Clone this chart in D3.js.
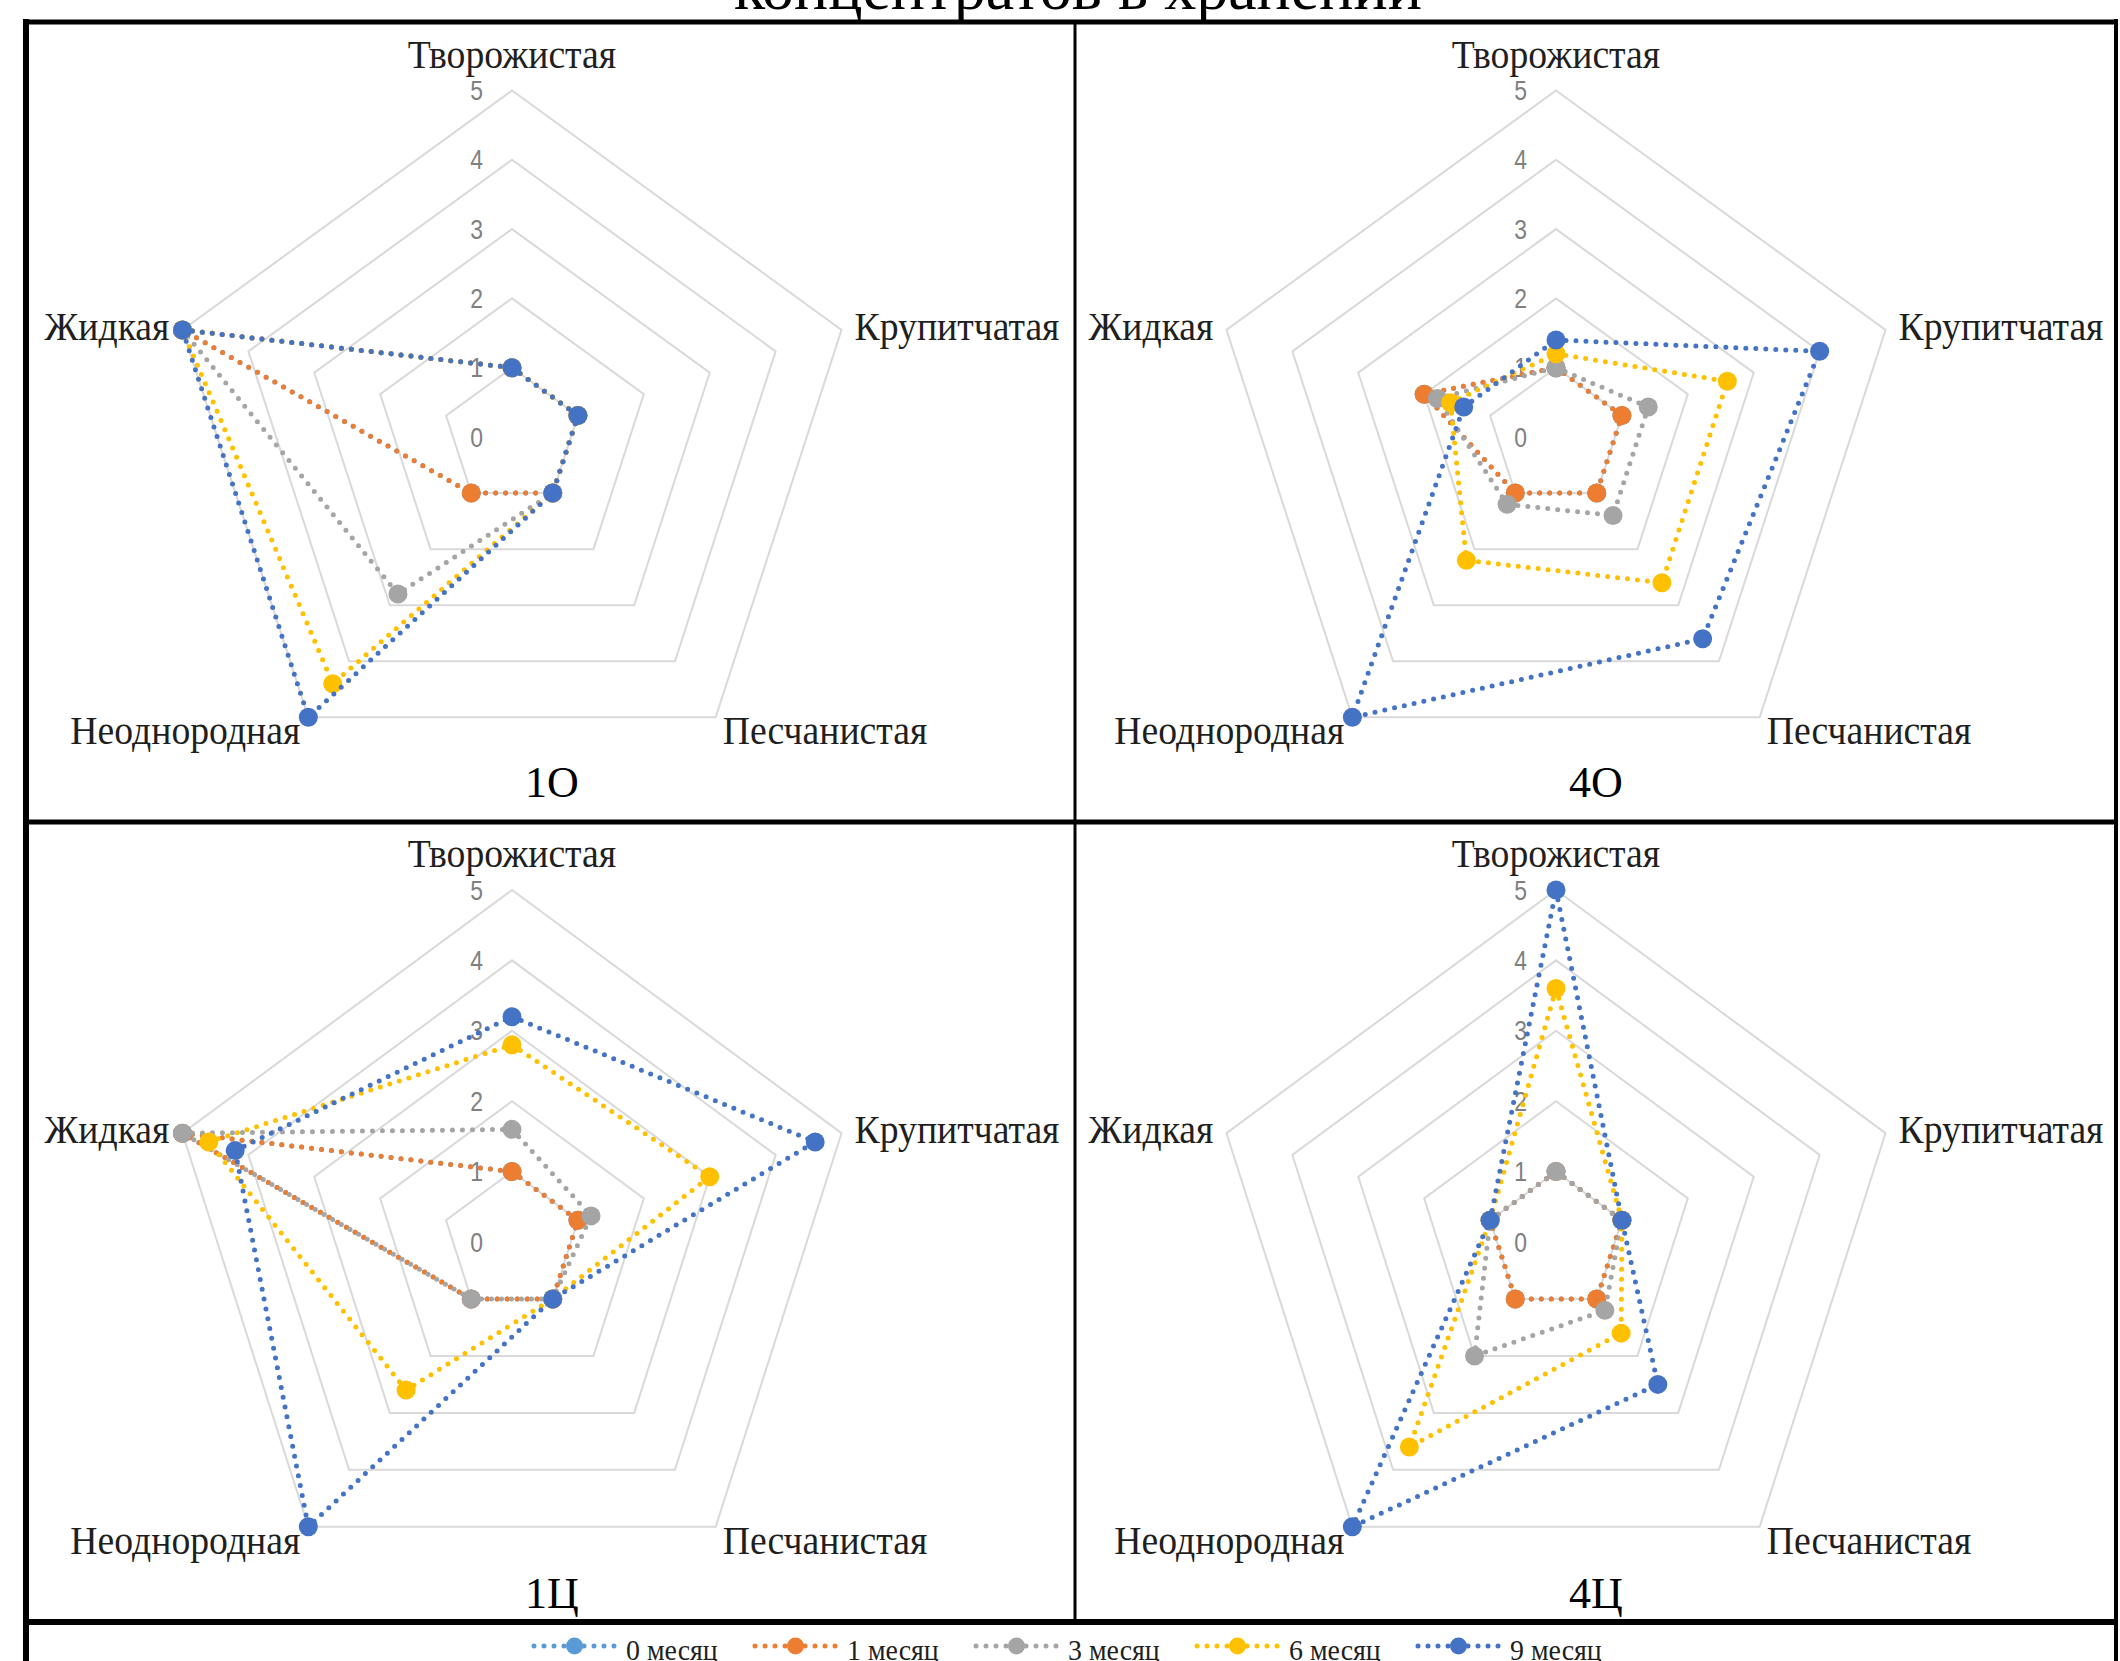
<!DOCTYPE html>
<html><head><meta charset="utf-8">
<script src="https://cdn.jsdelivr.net/npm/d3@7"></script>
<style>html,body{margin:0;padding:0;background:#fff;}svg{display:block;}</style>
</head><body>
<svg id="chart" width="2120" height="1661"></svg>
<script>
// ---------- data ----------
const titleText = "концентратов в хранении";
const categories = ["Творожистая", "Крупитчатая", "Песчанистая", "Неоднородная", "Жидкая"];
const seriesNames = ["0 месяц", "1 месяц", "3 месяц", "6 месяц", "9 месяц"];
const seriesColors = ["#5B9BD5", "#ED7D31", "#A5A5A5", "#FFC000", "#4472C4"];
const tickValues = [0, 1, 2, 3, 4, 5];
const panelNames = ["1O", "4O", "1Ц", "4Ц"];

// values per panel: one row per series (0,1,3,6,9 месяц), columns follow categories
const values1O = [
  [1, 1, 1, 1, 5],
  [1, 1, 1, 1, 5],
  [1, 1, 1, 2.8, 5],
  [1, 1, 1, 4.4, 5],
  [1, 1, 1, 5, 5]
];
const values4O = [
  [1, 1, 1, 1, 2],
  [1, 1, 1, 1, 2],
  [1, 1.4, 1.4, 1.2, 1.8],
  [1.2, 2.6, 2.6, 2.2, 1.6],
  [1.4, 4, 3.6, 5, 1.4]
];
const values1C = [
  [1, 1, 1, 1, 5],
  [1, 1, 1, 1, 5],
  [1.6, 1.2, 1, 1, 5],
  [2.8, 3, 1, 2.6, 4.6],
  [3.2, 4.6, 1, 5, 4.2]
];
const values4C = [
  [1, 1, 1, 1, 1],
  [1, 1, 1, 1, 1],
  [1, 1, 1.2, 2, 1],
  [3.6, 1, 1.6, 3.6, 1],
  [5, 1, 2.5, 5, 1]
];
const panelValues = [values1O, values4O, values1C, values4C];

// ---------- layout ----------
const svg = d3.select("#chart");
const W = 2120, H = 1661;
svg.append("rect").attr("width", W).attr("height", H).attr("fill", "#fff");

const R = 346.5;
const layout = [
  { cx: 512, cy: 437, ky: 1 },
  { cx: 1556, cy: 437, ky: 1 },
  { cx: 512, cy: 1242, ky: 1.016 },
  { cx: 1556, cy: 1242, ky: 1.016 }
];
const rScale = d3.scaleLinear().domain([0, 5]).range([0, R]);
const aScale = d3.scaleLinear().domain([0, categories.length]).range([0, 2 * Math.PI]);

const serif = "'Liberation Serif', 'Times New Roman', serif";
const sans = "'Liberation Sans', Arial, sans-serif";
const lineW = 5, dash = "0 10";

function proj(p, i, v) {
  const a = aScale(i), r = rScale(v);
  return [p.cx + r * Math.sin(a), p.cy - r * p.ky * Math.cos(a)];
}

// title (cut off at top, as in the source)
svg.append("text")
  .attr("x", 1078).attr("y", 9)
  .attr("text-anchor", "middle")
  .attr("font-family", serif).attr("font-size", 64)
  .attr("fill", "#000")
  .text(titleText);

layout.forEach((p, pi) => {
  const g = svg.append("g");
  const vals = panelValues[pi];

  // grid pentagons
  tickValues.filter(t => t > 0).forEach(t => {
    const pts = categories.map((c, i) => proj(p, i, t));
    g.append("path")
      .attr("d", d3.line().curve(d3.curveLinearClosed)(pts))
      .attr("fill", "none").attr("stroke", "#D9D9D9").attr("stroke-width", 2);
  });

  // tick labels
  tickValues.forEach(t => {
    const y = p.cy - rScale(t) * p.ky;
    g.append("text")
      .attr("transform", `translate(${p.cx - 29},${y}) scale(0.85,1)`)
      .attr("text-anchor", "end").attr("dominant-baseline", "central")
      .attr("font-family", sans).attr("font-size", 27)
      .attr("fill", "#808080")
      .text(t);
  });

  // category labels
  categories.forEach((c, i) => {
    const [vx, vy] = proj(p, i, 5);
    let x, y, anchor;
    if (i === 0) { x = vx; y = vy - 23; anchor = "middle"; }
    else if (i === 1) { x = vx + 13; y = vy + 10; anchor = "start"; }
    else if (i === 2) { x = vx + 7; y = vy + 27; anchor = "start"; }
    else if (i === 3) { x = vx - 8; y = vy + 27; anchor = "end"; }
    else { x = vx - 13; y = vy + 10; anchor = "end"; }
    g.append("text")
      .attr("transform", `translate(${x},${y}) scale(0.92,1)`)
      .attr("text-anchor", anchor)
      .attr("font-family", serif).attr("font-size", 41)
      .attr("fill", "#1f1f1f")
      .text(c);
  });

  // series: open path through the categories, then the closing segment drawn on its own
  vals.forEach((row, si) => {
    const pts = row.map((v, i) => proj(p, i, v));
    const styled = sel => sel
      .attr("fill", "none")
      .attr("stroke", seriesColors[si])
      .attr("stroke-width", lineW)
      .attr("stroke-linecap", "round")
      .attr("stroke-dasharray", dash);
    g.append("path").attr("d", d3.line()(pts)).call(styled);
    g.append("path").attr("d", d3.line()([pts[pts.length - 1], pts[0]])).call(styled);
    g.selectAll(null).data(pts).enter().append("circle")
      .attr("cx", d => d[0]).attr("cy", d => d[1])
      .attr("r", 9.5)
      .attr("fill", seriesColors[si]);
  });

  // panel name
  g.append("text")
    .attr("x", p.cx + 40).attr("y", p.cy + 360 * p.ky)
    .attr("text-anchor", "middle")
    .attr("font-family", serif).attr("font-size", 44)
    .attr("fill", "#000")
    .text(panelNames[pi]);
});

// frame lines
const frame = svg.append("g").attr("stroke", "#000").attr("fill", "none");
frame.append("line").attr("x1", 26).attr("x2", 26).attr("y1", 19).attr("y2", H).attr("stroke-width", 6);
frame.append("line").attr("x1", 2116).attr("x2", 2116).attr("y1", 19).attr("y2", H).attr("stroke-width", 4);
frame.append("line").attr("x1", 23).attr("x2", 2118).attr("y1", 22).attr("y2", 22).attr("stroke-width", 5);
frame.append("line").attr("x1", 1075).attr("x2", 1075).attr("y1", 22).attr("y2", 1622).attr("stroke-width", 3);
frame.append("line").attr("x1", 23).attr("x2", 2118).attr("y1", 822).attr("y2", 822).attr("stroke-width", 5);
frame.append("line").attr("x1", 23).attr("x2", 2118).attr("y1", 1622).attr("y2", 1622).attr("stroke-width", 6);

// legend
const legend = svg.append("g");
const legendY = 1646;
seriesNames.forEach((name, i) => {
  const x0 = 534 + i * 221;
  legend.append("line")
    .attr("x1", x0).attr("x2", x0 + 81).attr("y1", legendY).attr("y2", legendY)
    .attr("stroke", seriesColors[i]).attr("stroke-width", lineW)
    .attr("stroke-linecap", "round").attr("stroke-dasharray", dash);
  legend.append("circle")
    .attr("cx", x0 + 40.5).attr("cy", legendY).attr("r", 8.5)
    .attr("fill", seriesColors[i]);
  legend.append("text")
    .attr("transform", `translate(${x0 + 92},1660) scale(0.93,1)`)
    .attr("font-family", serif).attr("font-size", 30)
    .attr("fill", "#1f1f1f")
    .text(name);
});
</script>
</body></html>
